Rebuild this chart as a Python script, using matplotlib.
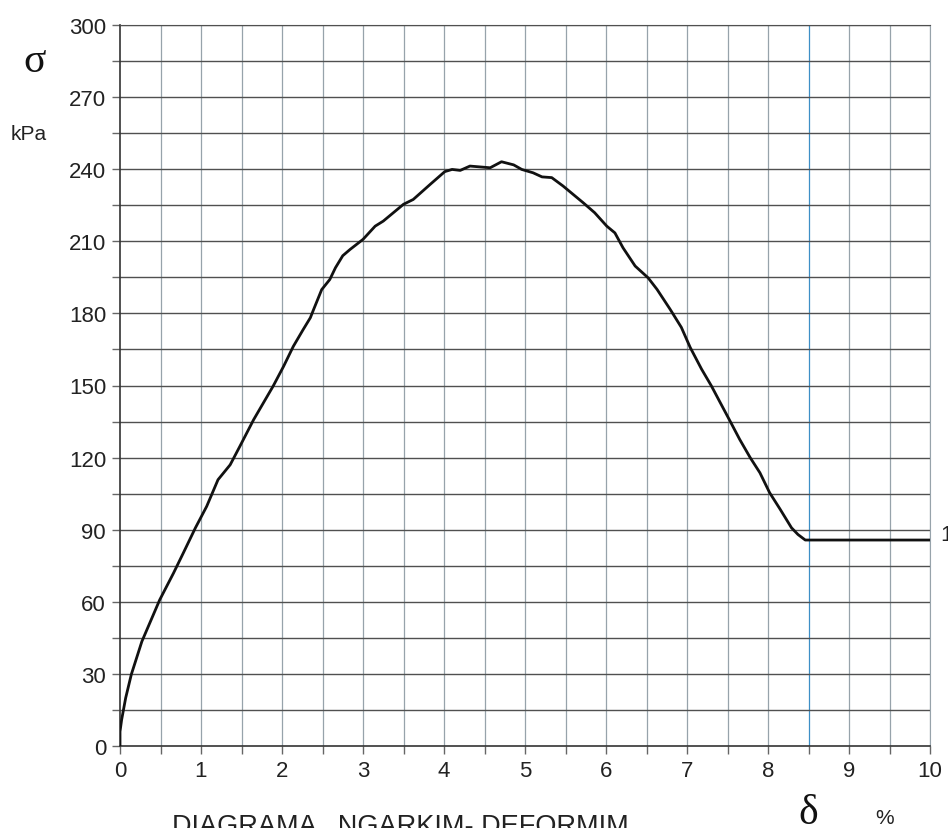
import numpy as np
import matplotlib.pyplot as plt
from matplotlib.ticker import MultipleLocator

# Diagrama ngarkim - deformim (lexuar nga grafiku)
delta = [0, 0, 0.02, 0.07, 0.14, 0.27, 0.41, 0.49, 0.66, 0.78, 0.93, 1.07, 1.21,
         1.36, 1.48, 1.65, 1.89, 2.02, 2.14, 2.26, 2.35, 2.39, 2.49, 2.59, 2.66,
         2.75, 2.84, 3.0, 3.15, 3.25, 3.5, 3.62, 3.83, 4.01, 4.10, 4.20, 4.32,
         4.57, 4.71, 4.86, 4.96, 5.10, 5.21, 5.33, 5.47, 5.72, 5.86, 6.01, 6.11,
         6.21, 6.36, 6.52, 6.63, 6.79, 6.93, 7.04, 7.18, 7.30, 7.41, 7.53, 7.65,
         7.78, 7.90, 8.02, 8.15, 8.29, 8.37, 8.46, 10.0]
sigma = [0, 6, 10.9, 20, 29.8, 43.5, 54.5, 60.8, 71.9, 80.2, 90.7, 99.7, 110.8,
         117, 124.7, 135.8, 149.7, 158, 166.3, 173.2, 178.2, 181.6, 189.9, 194.1, 199,
         204, 206.6, 210.8, 216.3, 218.4, 225.4, 227.4, 233.7, 239, 239.9, 239.5, 241.3,
         240.6, 243.1, 241.8, 239.9, 238.5, 236.8, 236.5, 233, 226, 221.9, 216.3, 213.5,
         207.3, 199.7, 194.8, 190, 181.8, 174.2, 165.8, 156.8, 149.9, 142.9, 135.3, 127.6,
         120, 113.7, 105.4, 98.5, 90.8, 88, 85.7, 85.7]

x_ticks = [0, 1, 2, 3, 4, 5, 6, 7, 8, 9, 10]
y_ticks = [0, 30, 60, 90, 120, 150, 180, 210, 240, 270, 300]

sans = ['Liberation Sans', 'DejaVu Sans']
serif = ['Liberation Serif', 'DejaVu Serif']

fig = plt.figure(figsize=(9.48, 8.29), dpi=100)
ax = fig.add_axes([120/948, 82/829, 810/948, 721/829])

ax.set_xlim(0, 10)
ax.set_ylim(0, 300)
ax.xaxis.set_major_locator(MultipleLocator(1))
ax.xaxis.set_minor_locator(MultipleLocator(0.5))
ax.yaxis.set_major_locator(MultipleLocator(30))
ax.yaxis.set_minor_locator(MultipleLocator(15))

# rrjeta
for xv in np.arange(0.5, 10.01, 0.5):
    col = '#3d8fc6' if abs(xv - 8.5) < 1e-6 else '#97a3ab'
    ax.axvline(xv, color=col, lw=0.9, zorder=1)
for yv in np.arange(15, 300.1, 15):
    ax.axhline(yv, color='#505050', lw=1.0, zorder=1)

ax.plot(delta, sigma, color='#111111', lw=2.0, zorder=3)

# etiketa e kurbes, e prere ne buze si ne origjinal
ax.text(10.13, 88, '1', fontsize=16, family=sans, va='center', ha='left',
        clip_on=False, color='#222222')

for s in ['left', 'bottom']:
    ax.spines[s].set_color('#333333')
    ax.spines[s].set_linewidth(1.2)
ax.spines['top'].set_color('#505050')
ax.spines['right'].set_color('#97a3ab')

ax.tick_params(which='both', direction='out', length=6, color='#666666', width=1)
ax.tick_params(which='major', labelsize=16, pad=4, labelcolor='#222222')
ax.set_xticks(x_ticks)
ax.set_yticks(y_ticks)
for lab in ax.get_xticklabels() + ax.get_yticklabels():
    lab.set_family(sans)

fig.text(35/948, 1 - 62/829, 'σ', fontsize=30, family=serif, ha='center', va='center', color='#111111')
fig.text(29/948, 1 - 134/829, 'kPa', fontsize=15, family=sans, ha='center', va='center', color='#222222')
fig.text(808/948, 1 - 824/829, 'δ', fontsize=30, family=serif, ha='center', va='baseline', color='#111111')
fig.text(885/948, 1 - 824/829, '%', fontsize=15, family=sans, ha='center', va='baseline', color='#222222')
fig.text(172/948, 1 - 834/829, 'DIAGRAMA   NGARKIM- DEFORMIM', fontsize=19.5, family=sans,
         ha='left', va='baseline', color='#222222')

fig.savefig('out.png', dpi=100)
